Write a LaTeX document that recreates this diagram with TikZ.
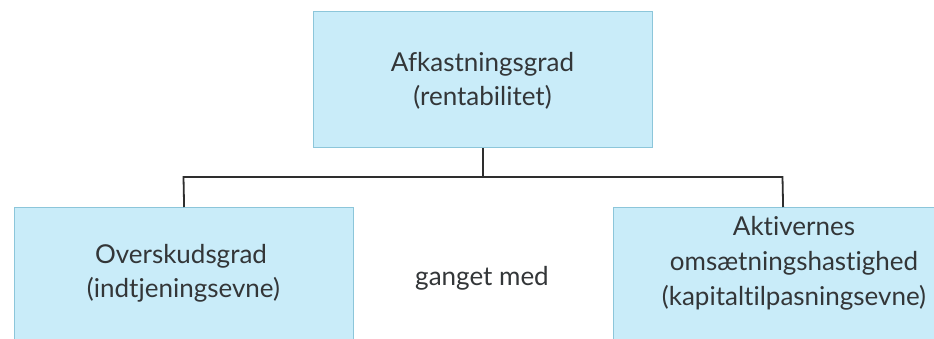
\documentclass[tikz,border=0pt]{standalone}
\usepackage{fontspec}
\setmainfont[Ligatures={NoCommon}]{Lato}
\definecolor{boxfill}{HTML}{C9ECF9}
\definecolor{boxline}{HTML}{8CC6DA}
\definecolor{txt}{HTML}{333638}
\definecolor{conn}{HTML}{2E2E2E}
\begin{document}
\begin{tikzpicture}[x=1pt,y=-1pt,
  box/.style={draw=boxline,fill=boxfill,line width=1.2pt,rectangle,inner sep=0pt,anchor=north west},
  lbl/.style={text=txt,font=\fontsize{26}{34}\selectfont,align=center,inner sep=0pt},
  conn/.style={draw=conn,line width=1.8pt}]
\useasboundingbox (0,0) rectangle (934,338);
\fill[white] (0,0) rectangle (934,338);
\begin{scope}
\clip (0,0) rectangle (934,338);
\node[box,minimum width=339pt,minimum height=136pt] (top) at (313,11) {};
\node[box,minimum width=339pt,minimum height=140pt] (left) at (14,207) {};
\node[box,minimum width=339pt,minimum height=140pt] (right) at (613,207) {};
\coordinate (hl) at (183.5,177);
\coordinate (hr) at (782.5,177);
\draw[conn] (top.south) -- (top.south |- hl);
\draw[conn] (left.north) -- (hl) -- (hr) -- (right.north);
\node[lbl,anchor=base] (t1) at (482.5,71) {Afkastningsgrad};
\node[lbl,anchor=base] (t2) at (482.5,105) {(rentabilitet)};
\node[lbl,anchor=base] (l1) at (181,263) {Overskudsgrad};
\node[lbl,anchor=base] (l2) at (183.5,297) {(indtjeningsevne)};
\node[lbl,anchor=base] (g) at (482,285) {ganget med};
\node[lbl,anchor=base] (r1) at (794,235) {Aktivernes};
\node[lbl,anchor=base] (r2) at (794,270) {omsætningshastighed};
\node[lbl,anchor=base] (r3) at (794,305) {(kapitaltilpasningsevne)};
\end{scope}
\end{tikzpicture}
\end{document}
